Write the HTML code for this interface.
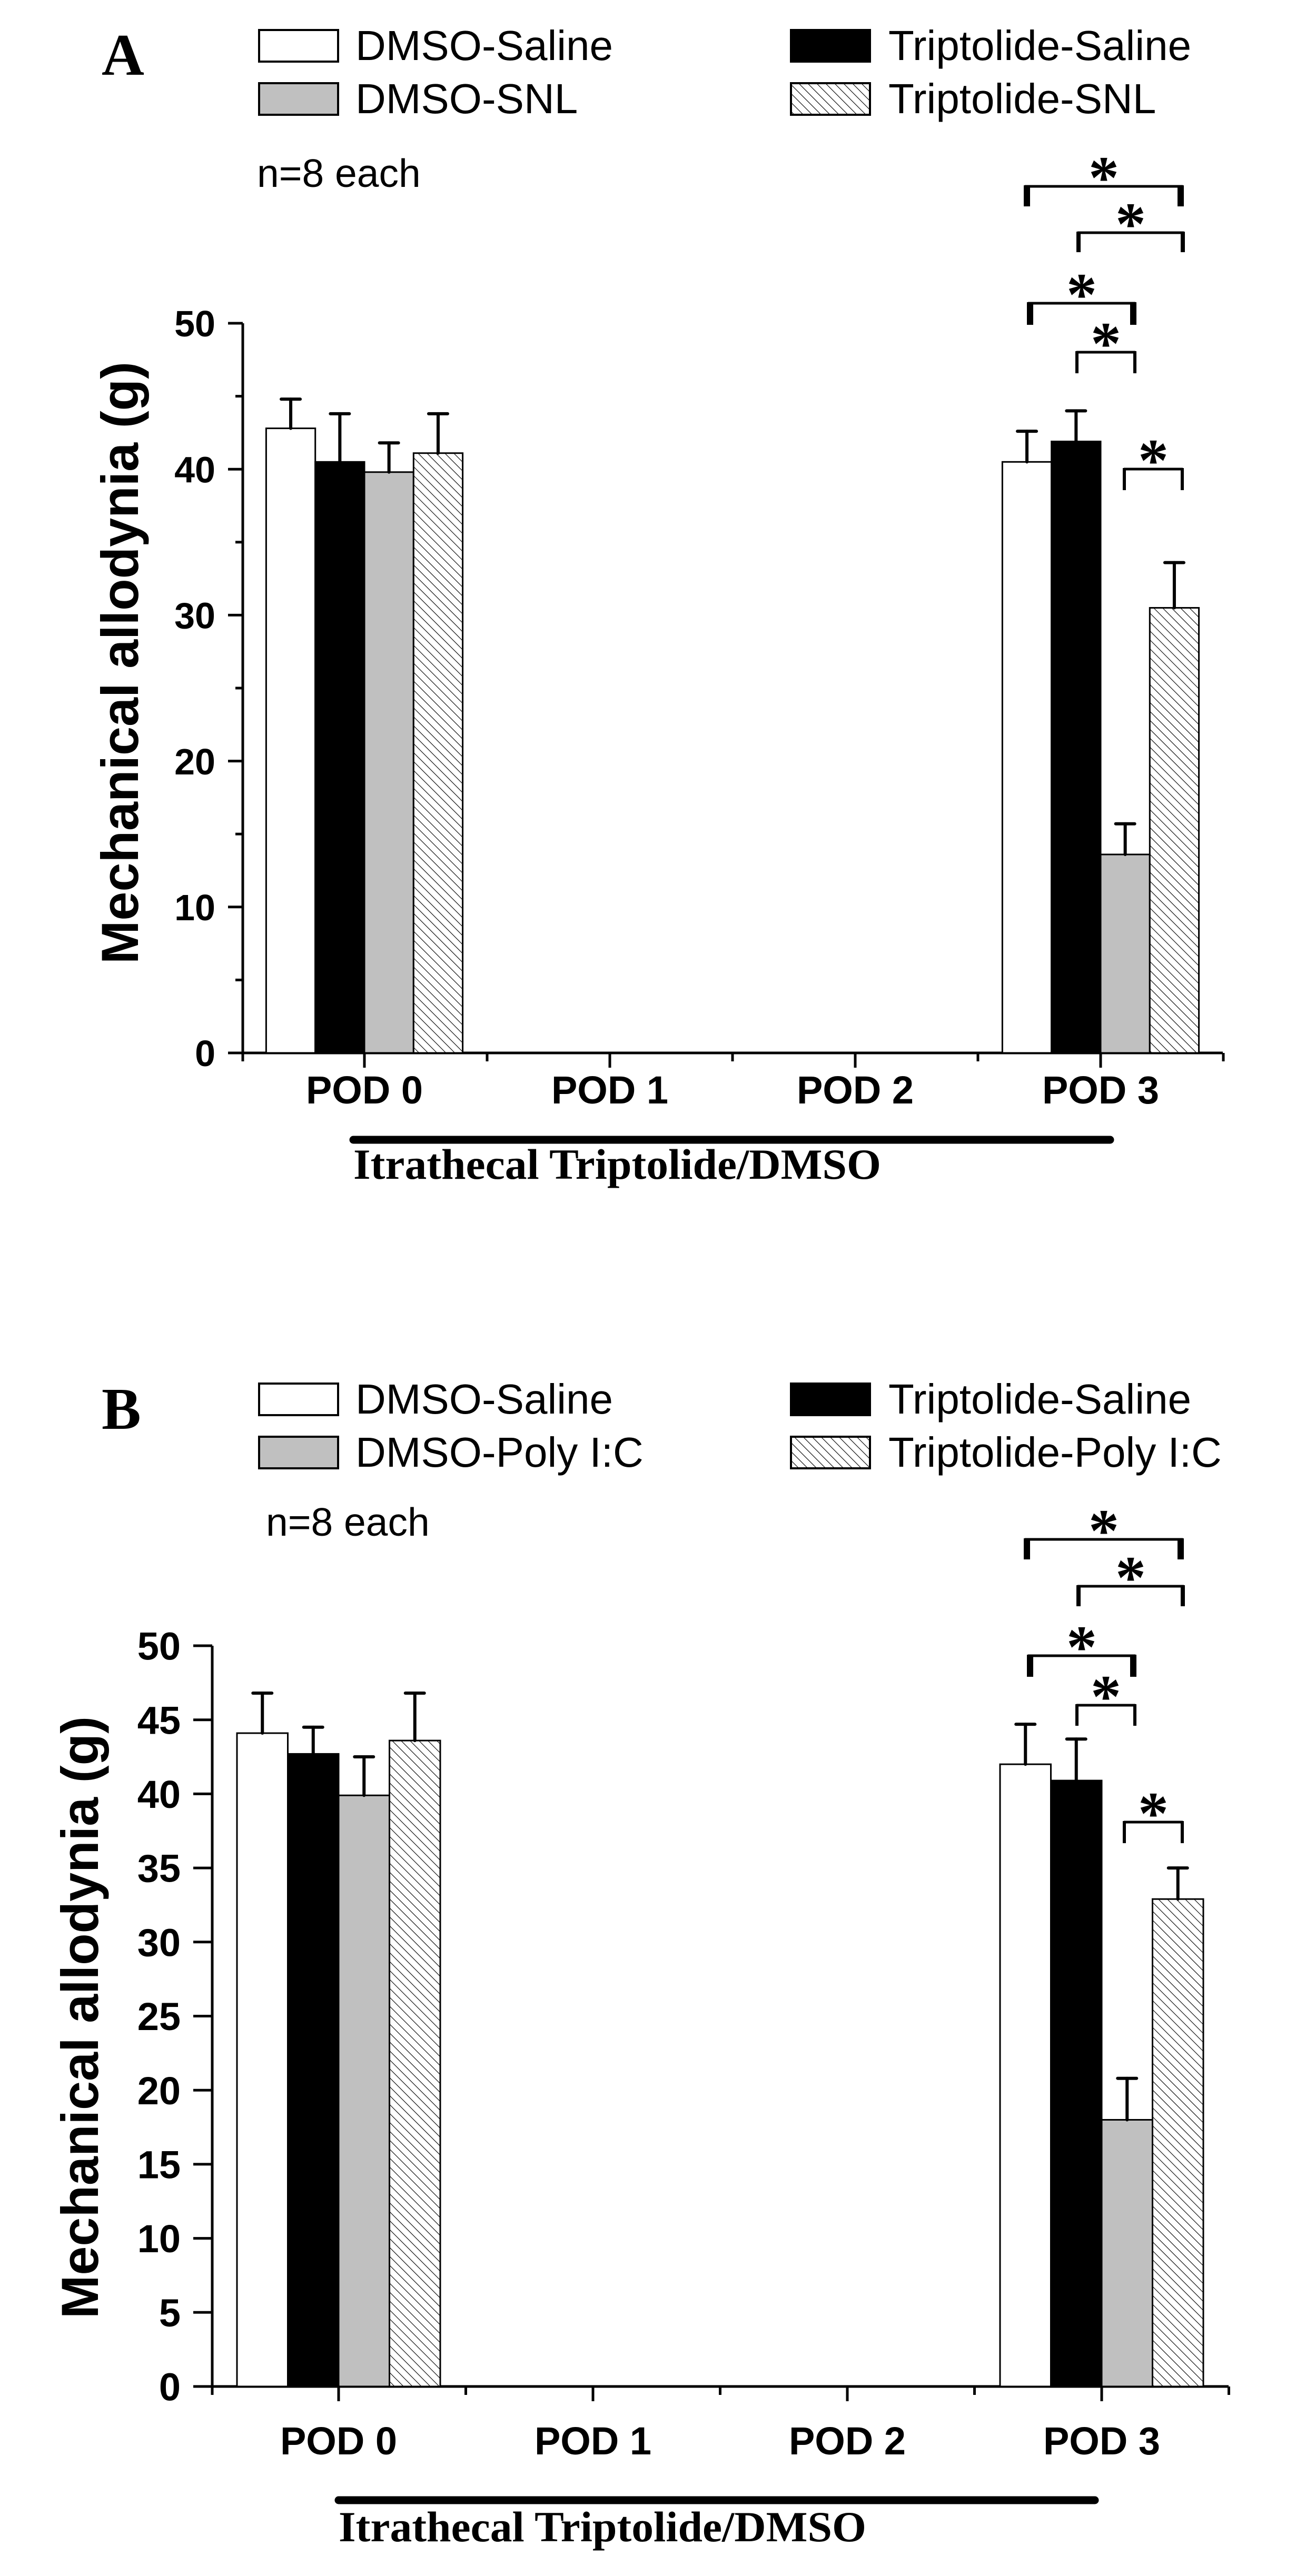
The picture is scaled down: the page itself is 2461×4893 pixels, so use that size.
<!DOCTYPE html>
<html><head><meta charset="utf-8"><style>
html,body{margin:0;padding:0;background:#fff;}
svg{display:block;}
</style></head><body>
<svg id="fig" width="2461" height="4893" viewBox="0 0 2461 4893" xmlns="http://www.w3.org/2000/svg">
<defs>
<pattern id="hatch" patternUnits="userSpaceOnUse" width="12" height="12" patternTransform="rotate(-45)">
<rect width="12" height="12" fill="#fff"/>
<line x1="0" y1="0" x2="0" y2="12" stroke="#000" stroke-width="2.2"/>
</pattern>
</defs>
</svg>
<script>
// ---- data ----
const categories = ["POD 0", "POD 1", "POD 2", "POD 3"];
const seriesNamesA = ["DMSO-Saline", "Triptolide-Saline", "DMSO-SNL", "Triptolide-SNL"];
const seriesNamesB = ["DMSO-Saline", "Triptolide-Saline", "DMSO-Poly I:C", "Triptolide-Poly I:C"];
// values per series: [POD0, POD1, POD2, POD3] (null = no bar)
const A_dmsoSaline = [42.8, null, null, 40.5];
const A_tripSaline = [40.5, null, null, 41.9];
const A_dmsoSNL = [39.8, null, null, 13.6];
const A_tripSNL = [41.1, null, null, 30.5];
const A_errDmsoSaline = [2.0, null, null, 2.1];
const A_errTripSaline = [3.3, null, null, 2.1];
const A_errDmsoSNL = [2.0, null, null, 2.1];
const A_errTripSNL = [2.7, null, null, 3.1];
const B_dmsoSaline = [44.1, null, null, 42.0];
const B_tripSaline = [42.7, null, null, 40.9];
const B_dmsoPoly = [39.9, null, null, 18.0];
const B_tripPoly = [43.6, null, null, 32.9];
const B_errDmsoSaline = [2.7, null, null, 2.7];
const B_errTripSaline = [1.8, null, null, 2.8];
const B_errDmsoPoly = [2.6, null, null, 2.8];
const B_errTripPoly = [3.2, null, null, 2.1];
const yTicksA = [0, 10, 20, 30, 40, 50];
const yTicksB = [0, 5, 10, 15, 20, 25, 30, 35, 40, 45, 50];

const NS = "http://www.w3.org/2000/svg";
const svg = document.getElementById("fig");
function el(tag, attrs, parent, text) {
  const e = document.createElementNS(NS, tag);
  for (const k in attrs) e.setAttribute(k, attrs[k]);
  if (text !== undefined) e.textContent = text;
  (parent || svg).appendChild(e);
  return e;
}
const fills = ["#fff", "#000", "#c0c0c0", "url(#hatch)"];

function panel(P) {
  const g = el("g", {});
  
  
  const y = v => P.y0 - (v / 50) * (P.y0 - P.y50);
  const x = i => P.x0tick + i * P.step;
  const L = el("text", {x: 193, y: P.letterY, "font-family": "Liberation Serif, serif", "font-weight": "bold", "font-size": 112}, g, P.id.toUpperCase());
  
  
  const lx = [492, 1502], tx = [675, 1687];
  P.names.forEach((n, i) => {
    const col = i % 2 === 0 ? 0 : 1;
    const row = (i === 0 || i === 1) ? 0 : 1;
    const ry = P.legY[row];
    const lg = el("g", {}, g);
    
    
    el("rect", {x: lx[col], y: ry, width: 150, height: 60, fill: fills[i], stroke: "#000", "stroke-width": 4}, lg);
    el("text", {x: tx[col], y: ry + 57, "font-family": "Liberation Sans, sans-serif", "font-size": 80}, lg, n);
  });
  const nt = el("text", {x: P.nX, y: P.nY, "font-family": "Liberation Sans, sans-serif", "font-size": 75}, g, "n=8 each");
  
  
  const ax = el("g", {stroke: "#000", "stroke-width": 5, fill: "none"}, g);
  
  
  el("line", {x1: P.ax, y1: y(50), x2: P.ax, y2: P.y0 + 2}, ax);
  el("line", {x1: P.ax - 28, y1: P.y0, x2: P.xEnd, y2: P.y0}, ax);
  for (let v = 0; v <= 50; v += P.minor) {
    el("line", {x1: P.ax - (P.ticks.includes(v) ? P.tickLen : P.tickLen / 2), y1: y(v), x2: P.ax, y2: y(v)}, ax);
  }
  P.ticks.forEach(v => {
    const t = el("text", {x: P.ax - P.tickLen - 24, y: y(v) + P.tickFont * 0.36, "text-anchor": "end", "font-family": "Liberation Sans, sans-serif", "font-weight": "bold", "font-size": P.tickFont, fill: "#000", stroke: "none"}, g, String(v));
    
    
  });
  el("line", {x1: P.ax, y1: P.y0, x2: P.ax, y2: P.y0 + 16}, ax);
  categories.forEach((c, i) => {
    el("line", {x1: x(i), y1: P.y0, x2: x(i), y2: P.y0 + 28}, ax);
    el("line", {x1: x(i) + P.step / 2, y1: P.y0, x2: x(i) + P.step / 2, y2: P.y0 + 16}, ax);
    const t = el("text", {x: x(i), y: P.podY, "text-anchor": "middle", "font-family": "Liberation Sans, sans-serif", "font-weight": "bold", "font-size": 74}, g, c);
    
    
  });
  const yt = el("text", {x: 0, y: 0, transform: `translate(${P.titleX},${P.titleY}) rotate(-90)`, "text-anchor": "middle", "font-family": "Liberation Sans, sans-serif", "font-weight": "bold", "font-size": 99}, g, "Mechanical allodynia (g)");
  
  
  P.series.forEach((vals, s) => {
    vals.forEach((v, i) => {
      if (v === null) return;
      const bx = x(i) - 2 * P.bw + s * P.bw;
      const r = el("rect", {x: bx, y: y(v), width: P.bw, height: P.y0 - y(v), fill: fills[s], stroke: "#000", "stroke-width": 3}, g);
      
      
      const e = P.errs[s][i];
      const cx = bx + P.bw / 2;
      const eg = el("g", {stroke: "#000", "stroke-width": 6, "stroke-linecap": "round"}, g);
      
      
      el("line", {x1: cx, y1: y(v), x2: cx, y2: y(v + e)}, eg);
      el("line", {x1: cx - 18, y1: y(v + e), x2: cx + 18, y2: y(v + e)}, eg);
    });
  });
  P.brackets.forEach(b => {
    const bg = el("g", {fill: "none", stroke: "#000"}, g);
    
    
    el("line", {x1: b[0], y1: b[2], x2: b[1], y2: b[2], "stroke-width": 5}, bg);
    el("line", {x1: b[0] + b[4] / 2 - 2, y1: b[2] - 2, x2: b[0] + b[4] / 2 - 2, y2: b[3], "stroke-width": b[4]}, bg);
    el("line", {x1: b[1] - b[4] / 2 + 2, y1: b[2] - 2, x2: b[1] - b[4] / 2 + 2, y2: b[3], "stroke-width": b[4]}, bg);
    el("text", {x: (b[0] + b[1]) / 2, y: b[2] + 22, "text-anchor": "middle", "font-family": "Liberation Serif, serif", "font-weight": "bold", "font-size": 116, fill: "#000", stroke: "none"}, bg, "*");
  });
  const tb = el("line", {x1: P.lineX1, y1: P.lineY, x2: P.lineX2, y2: P.lineY, stroke: "#000", "stroke-width": 15, "stroke-linecap": "round"}, g);
  
  
  const it = el("text", {x: P.lineX1, y: P.itY, "font-family": "Liberation Serif, serif", "font-weight": "bold", "font-size": 82, textLength: 1002, lengthAdjust: "spacingAndGlyphs"}, g, "Itrathecal Triptolide/DMSO");
  
  
}

panel({
  id: "a", names: seriesNamesA, letterY: 142, legY: [57, 158], nX: 488, nY: 355,
  ax: 461, y0: 2000, y50: 614, xEnd: 2322, x0tick: 692, step: 466, bw: 93.3,
  ticks: yTicksA, minor: 5, tickLen: 28, tickFont: 70,
  podY: 2096, titleX: 262, titleY: 1259,
  series: [A_dmsoSaline, A_tripSaline, A_dmsoSNL, A_tripSNL],
  errs: [A_errDmsoSaline, A_errTripSaline, A_errDmsoSNL, A_errTripSNL],
  brackets: [[1946, 2246, 354, 392, 12], [2046, 2248, 442, 479, 8], [1952, 2156, 576, 617, 12], [2044, 2156, 669, 709, 6], [2134, 2246, 891, 931, 6]],
  lineX1: 671, lineX2: 2108, lineY: 2165, itY: 2239
});
panel({
  id: "b", names: seriesNamesB, letterY: 2714, legY: [2628, 2729], nX: 505, nY: 2917,
  ax: 403, y0: 4533, y50: 3126, xEnd: 2333, x0tick: 643, step: 483, bw: 96.5,
  ticks: yTicksB, minor: 5, tickLen: 36, tickFont: 74,
  podY: 4662, titleX: 186, titleY: 3832,
  series: [B_dmsoSaline, B_tripSaline, B_dmsoPoly, B_tripPoly],
  errs: [B_errDmsoSaline, B_errTripSaline, B_errDmsoPoly, B_errTripPoly],
  brackets: [[1946, 2246, 2924, 2962, 12], [2046, 2248, 3013, 3051, 8], [1952, 2156, 3145, 3185, 12], [2044, 2156, 3239, 3278, 6], [2134, 2246, 3461, 3501, 6]],
  lineX1: 643, lineX2: 2079, lineY: 4749, itY: 4827
});
</script>
</body></html>
